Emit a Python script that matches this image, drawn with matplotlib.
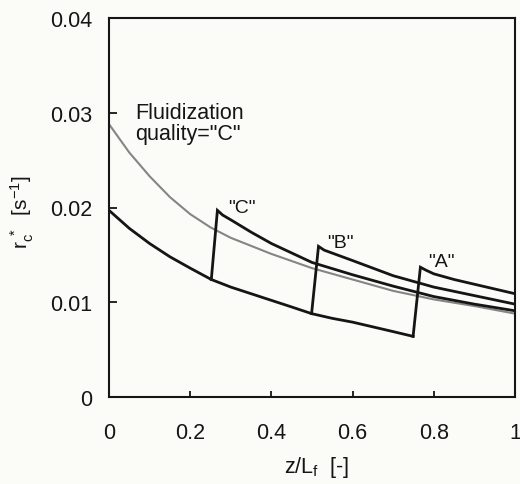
import matplotlib
matplotlib.use("Agg")
import matplotlib.pyplot as plt

plt.rcParams['font.family'] = ['Liberation Sans', 'DejaVu Sans']
plt.rcParams['mathtext.fontset'] = 'custom'
plt.rcParams['mathtext.rm'] = 'Liberation Sans'
plt.rcParams['mathtext.it'] = 'Liberation Sans'
plt.rcParams['mathtext.default'] = 'regular'

# Gray reference curve (uniform fluidization quality "C")
gray_x = [0.0, 0.05, 0.1, 0.15, 0.2, 0.25, 0.3, 0.4, 0.5, 0.6, 0.7, 0.8, 0.9, 1.0]
gray_y = [0.0288, 0.0258, 0.0233, 0.0211, 0.0193, 0.0179, 0.0168, 0.0151, 0.0136,
          0.0124, 0.0112, 0.0103, 0.0096, 0.0088]

# Lower black curve (before switching)
base_x = [0.0, 0.05, 0.1, 0.15, 0.2, 0.252, 0.3, 0.35, 0.4, 0.45, 0.499,
          0.55, 0.6, 0.65, 0.7, 0.749]
base_y = [0.0197, 0.0178, 0.0162, 0.0148, 0.0136, 0.0124, 0.0116, 0.0109, 0.0102,
          0.0095, 0.0088, 0.0083, 0.0079, 0.0074, 0.0069, 0.0064]

# Branch "C" (switch at z/Lf = 0.25)
c_x = [0.252, 0.267, 0.28, 0.3, 0.35, 0.4, 0.45, 0.5, 0.6, 0.7, 0.8, 0.9, 1.0]
c_y = [0.0124, 0.0197, 0.0192, 0.0187, 0.0174, 0.0162, 0.0152, 0.0142, 0.0129,
       0.0117, 0.0106, 0.0098, 0.0091]

# Branch "B" (switch at z/Lf = 0.5)
b_x = [0.499, 0.516, 0.53, 0.6, 0.7, 0.8, 0.9, 1.0]
b_y = [0.0088, 0.0159, 0.0155, 0.0144, 0.0128, 0.0116, 0.0107, 0.0098]

# Branch "A" (switch at z/Lf = 0.75)
a_x = [0.749, 0.767, 0.78, 0.8, 0.85, 0.9, 0.95, 1.0]
a_y = [0.0064, 0.0137, 0.0134, 0.0130, 0.0124, 0.0119, 0.0114, 0.0109]

x_ticks = [0, 0.2, 0.4, 0.6, 0.8, 1]
x_ticklabels = ['0', '0.2', '0.4', '0.6', '0.8', '1']
y_ticks = [0, 0.01, 0.02, 0.03, 0.04]
y_ticklabels = ['0', '0.01', '0.02', '0.03', '0.04']

bg = '#fbfbf8'
ink = '#151515'
fig = plt.figure(figsize=(5.2, 4.85), dpi=100, facecolor=bg)
ax = fig.add_axes([109/520, 1 - 398/485, 406/520, 379/485], facecolor=bg)

ax.plot(gray_x, gray_y, color='#858585', lw=1.5, zorder=2)
for xs, ys in [(base_x, base_y), (c_x, c_y), (b_x, b_y), (a_x, a_y)]:
    ax.plot(xs, ys, color=ink, lw=2.0, solid_joinstyle='miter', zorder=3)

ax.set_xlim(0, 1)
ax.set_ylim(0, 0.04)
ax.set_xticks(x_ticks)
ax.set_xticklabels(x_ticklabels)
ax.set_yticks(y_ticks)
ax.set_yticklabels(y_ticklabels)
ax.tick_params(axis='both', direction='in', labelsize=15.5, colors=ink, width=1.3)
ax.tick_params(axis='x', length=4, pad=18)
ax.tick_params(axis='y', length=5.5, pad=12)
for s in ax.spines.values():
    s.set_linewidth(1.5)
    s.set_color(ink)

ax.set_ylabel(r'r$_c^{\ *}$  [s$^{-1}$]', fontsize=15, color=ink)
ax.yaxis.set_label_coords(-0.18, 0.49)
ax.set_xlabel(r'z/L$_f$  [-]', fontsize=15.5, color=ink)
ax.xaxis.set_label_coords(0.512, -0.15)

ax.text(0.064, 0.0311, 'Fluidization\nquality="C"', fontsize=15.5, color=ink,
        va='top', linespacing=0.95)
ax.text(0.293, 0.0200, '"C"', fontsize=14, color=ink, va='center')
ax.text(0.537, 0.0163, '"B"', fontsize=14, color=ink, va='center')
ax.text(0.786, 0.0143, '"A"', fontsize=14, color=ink, va='center')

fig.savefig('out.png', dpi=100, facecolor=bg)
